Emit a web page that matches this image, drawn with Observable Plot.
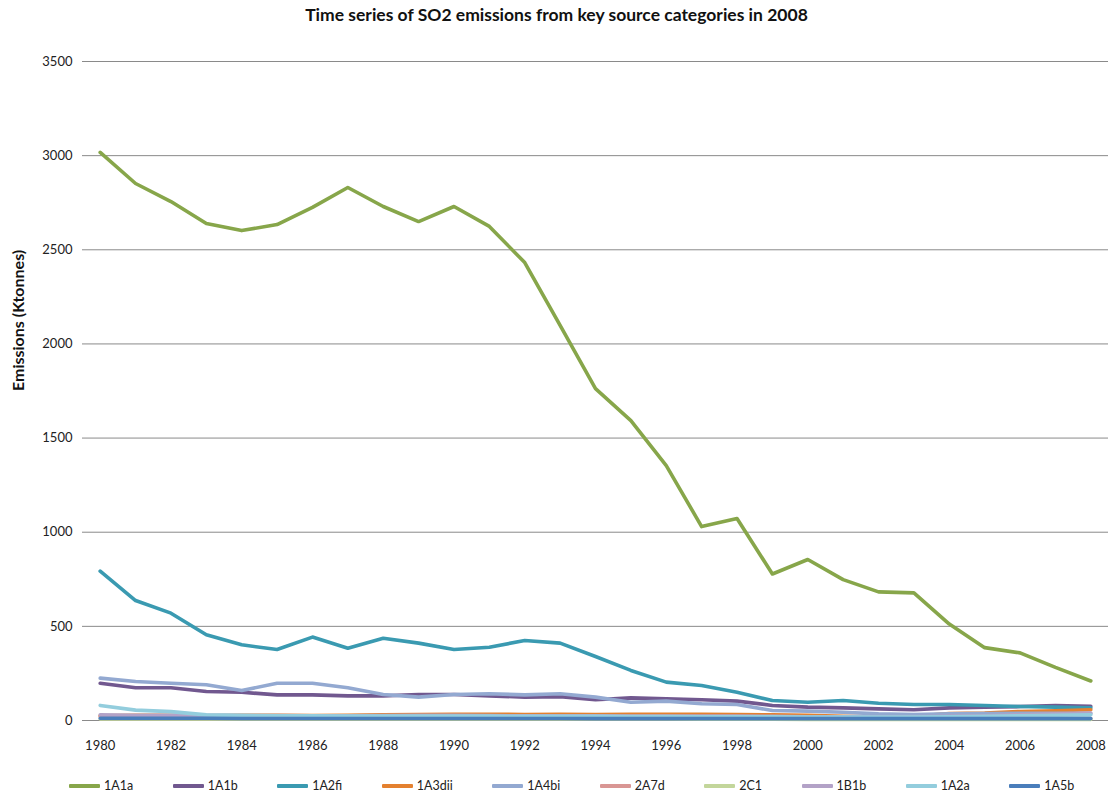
<!DOCTYPE html>
<html>
<head>
<meta charset="utf-8">
<script src="https://cdn.jsdelivr.net/npm/d3@7"></script>
<script src="https://cdn.jsdelivr.net/npm/@observablehq/plot@0.6"></script>
<style>
  html, body { margin: 0; padding: 0; background: #fff; }
  body { width: 1113px; height: 801px; overflow: hidden; font-family: Lato, "Open Sans", sans-serif; color: #222; }
  #title { height: 30px; line-height: 30px; text-align: center; font-weight: bold; font-size: 17.5px; color: #111; }
  #legend { height: 31px; display: flex; align-items: center; padding-left: 69px; font-size: 12.5px; }
  .item { display: flex; align-items: center; margin-right: 39.5px; }
  .sw { width: 31px; height: 4px; margin-right: 4px; border-radius: 1px; }
</style>
</head>
<body>
<div id="title">Time series of SO2 emissions from key source categories in 2008</div>
<div id="chart"></div>
<div id="legend"></div>
<script>
const years = d3.range(1980, 2009);
const seriesNames = ["1A1a","1A1b","1A2fi","1A3dii","1A4bi","2A7d","2C1","1B1b","1A2a","1A5b"];
const seriesColors = ["#87A64A","#71588F","#3A9AB1","#E4812F","#93A9D1","#D99694","#C3D69B","#B3A2C7","#93CDDD","#4A7EBB"];
const yTicks = [0,500,1000,1500,2000,2500,3000,3500];
const xTicks = [1980,1982,1984,1986,1988,1990,1992,1994,1996,1998,2000,2002,2004,2006,2008];
const yLabel = "Emissions (Ktonnes)";

const s1A1a  = [3017,2852,2756,2640,2602,2634,2725,2831,2730,2650,2730,2624,2432,2098,1763,1593,1354,1030,1073,778,855,748,683,678,512,387,359,282,210];
const s1A1b  = [198,174,174,154,150,136,136,131,131,138,138,131,124,127,110,120,115,110,103,80,71,67,62,57,67,71,74,80,76];
const s1A2fi = [793,637,570,455,402,377,443,384,437,411,377,389,425,411,340,266,204,186,150,106,97,106,92,85,85,80,74,71,67];
const s1A3dii= [25,27,28,25,28,28,26,27,30,32,33,33,32,33,32,33,33,33,32,30,28,22,20,22,37,40,48,52,57];
const s1A4bi = [225,207,198,190,159,198,198,174,138,124,138,142,136,142,124,97,103,89,85,53,50,44,35,32,35,37,38,38,37];
const s2A7d  = [22,20,20,18,18,17,16,15,15,15,14,14,13,13,13,12,12,12,12,11,11,10,10,10,10,10,10,10,10];
const s2C1   = [8,8,8,8,8,8,8,8,8,8,8,8,8,8,8,8,8,7,7,7,6,6,6,6,6,6,6,6,5];
const s1B1b  = [30,28,28,27,26,26,25,25,26,27,27,26,25,25,25,24,24,24,23,22,20,20,20,20,22,25,30,35,40];
const s1A2a  = [80,55,47,30,27,25,25,24,24,24,23,23,22,22,22,21,21,20,20,19,18,18,18,18,20,22,25,28,30];
const s1A5b  = [12,12,12,12,11,11,11,11,11,11,11,11,11,11,10,10,10,10,10,10,10,10,10,10,10,10,10,10,10];

const allSeries = [s1A1a,s1A1b,s1A2fi,s1A3dii,s1A4bi,s2A7d,s2C1,s1B1b,s1A2a,s1A5b];
const rows = [];
seriesNames.forEach((name, i) => {
  years.forEach((yr, j) => rows.push({series: name, year: yr, value: allSeries[i][j]}));
});

const chart = Plot.plot({
  width: 1113,
  height: 740,
  marginLeft: 82,
  marginRight: 5,
  marginTop: 31,
  marginBottom: 50,
  style: {fontFamily: "Lato, 'Open Sans', sans-serif", fontSize: "13px", color: "#222", background: "#fff"},
  x: {domain: [1979.5, 2008.5], ticks: xTicks, tickFormat: d => String(d), label: null, tickSize: 0, tickPadding: 20},
  y: {domain: [0, 3500], ticks: yTicks, tickFormat: d => String(d), label: null, tickSize: 0, tickPadding: 10},
  color: {domain: seriesNames, range: seriesColors},
  marks: [
    Plot.ruleY(yTicks, {stroke: "#8a8a8a", strokeWidth: 1}),
    Plot.line(rows, {x: "year", y: "value", z: "series", stroke: "series", strokeWidth: 3.6, strokeLinejoin: "round", strokeLinecap: "round"}),
    Plot.text([yLabel], {frameAnchor: "left", dx: -64, rotate: -90, text: d => d, fontWeight: "bold", fontSize: 16, fill: "#111"})
  ]
});
document.getElementById("chart").appendChild(chart);

const legend = document.getElementById("legend");
seriesNames.forEach((name, i) => {
  const it = document.createElement("div");
  it.className = "item";
  const sw = document.createElement("div");
  sw.className = "sw";
  sw.style.background = seriesColors[i];
  const tx = document.createElement("span");
  tx.textContent = name;
  it.appendChild(sw); it.appendChild(tx);
  legend.appendChild(it);
});
</script>
</body>
</html>
